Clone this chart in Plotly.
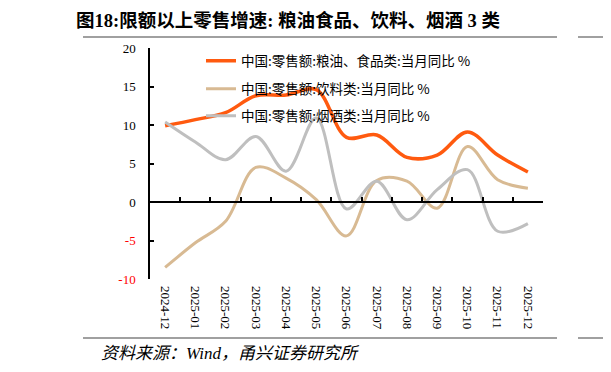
import plotly.graph_objects as go

months = ['2024-12', '2025-01', '2025-02', '2025-03', '2025-04', '2025-05', '2025-06',
          '2025-07', '2025-08', '2025-09', '2025-10', '2025-11', '2025-12']
food = [9.9, 10.7, 11.6, 13.8, 13.9, 14.6, 8.4, 8.7, 5.8, 6.1, 9.1, 6.1, 3.9]
beverage = [-8.5, -5.3, -2.5, 4.5, 3.1, 0.3, -4.4, 2.8, 2.7, -0.8, 7.2, 2.9, 1.8]
tobacco = [10.4, 7.8, 5.5, 8.5, 4.0, 10.9, -0.9, 2.7, -2.3, 1.6, 4.2, -3.8, -2.8]

names = ['中国:零售额:粮油、食品类:当月同比 %', '中国:零售额:饮料类:当月同比 %', '中国:零售额:烟酒类:当月同比 %']
colors = ['#FF5A0F', '#D8BA93', '#BFBFBF']
widths = [3.5, 3, 3]
yticks = [-10, -5, 0, 5, 10, 15, 20]
ytext = [f"<span style='color:#FF0000'>{v}</span>" if v < 0 else str(v) for v in yticks]

SERIF = 'Liberation Serif, Noto Sans CJK SC'
CJK = 'Noto Sans CJK SC'

fig = go.Figure()
for i, (vals, nm) in enumerate(zip([food, beverage, tobacco], names)):
    fig.add_trace(go.Scatter(
        x=months, y=vals, name=nm, mode='lines',
        line=dict(color=colors[i], width=widths[i], shape='spline', smoothing=1),
        legend='legend' if i == 0 else f'legend{i+1}',
        hoverinfo='skip'))

# dummy trace for the zero-line axis
fig.add_trace(go.Scatter(x=months, y=[None] * len(months), xaxis='x2', yaxis='y',
                         showlegend=False, hoverinfo='skip'))

# page has an 8px body margin; plot area target: x 150..543, y 48..279
PW, PH = 393, 231
def px(x):
    return (x - 150) / PW
def py(y):
    return (279 - y) / PH

legend_common = dict(bgcolor='rgba(0,0,0,0)', borderwidth=0, xanchor='left', yanchor='middle',
                     font=dict(family=CJK, size=13.5, color='#000000'))
lx = px(201)
fig.update_layout(
    width=603, height=364, autosize=False,
    margin=dict(l=142, r=68, t=40, b=93),
    paper_bgcolor='white', plot_bgcolor='white',
    font=dict(family=SERIF, size=13, color='#000000'),
    legend=dict(x=lx, y=py(61), **legend_common),
    legend2=dict(x=lx, y=py(89), **legend_common),
    legend3=dict(x=lx, y=py(116), **legend_common),
    xaxis=dict(type='category', categoryorder='array', categoryarray=months,
               range=[-0.5, len(months) - 0.5], showline=False, showgrid=False,
               zeroline=False, ticks='', tickangle=90, ticklabelstandoff=6,
               tickfont=dict(family=SERIF, size=13, color='#000000')),
    xaxis2=dict(type='category', categoryorder='array', categoryarray=months,
                range=[-0.5, len(months) - 0.5], overlaying='x', anchor='free',
                position=1 / 3, side='bottom', showline=True, linecolor='#000000',
                linewidth=1.5, ticks='inside', ticklen=4, tickwidth=1.5,
                tickcolor='#000000', tickson='boundaries', showticklabels=False,
                showgrid=False, zeroline=False),
    yaxis=dict(range=[-10, 20], tickvals=yticks, ticktext=ytext, showline=True,
               linecolor='#000000', linewidth=1.5, ticks='inside', ticklen=4,
               tickwidth=1.5, tickcolor='#000000', showgrid=False, zeroline=False,
               ticklabelstandoff=10,
               tickfont=dict(family=SERIF, size=13, color='#000000')),
)

fig.add_annotation(text='<b>图18:限额以上零售增速: 粮油食品、饮料、烟酒 3 类</b>',
                   xref='paper', yref='paper', x=px(288), y=py(20),
                   xanchor='center', yanchor='middle', showarrow=False,
                   font=dict(family=SERIF, size=18.5, color='#000000'))
fig.add_annotation(text='<i>资料来源：Wind，甬兴证券研究所</i>',
                   xref='paper', yref='paper', x=px(99), y=py(353),
                   xanchor='left', yanchor='middle', showarrow=False,
                   font=dict(family=SERIF, size=17, color='#000000'))

for yy in [py(37), py(338)]:
    fig.add_shape(type='line', xref='paper', yref='paper', x0=px(83), x1=px(557),
                  y0=yy, y1=yy, line=dict(color='#808080', width=1.5))
    fig.add_shape(type='line', xref='paper', yref='paper', x0=px(578), x1=px(611),
                  y0=yy, y1=yy, line=dict(color='#808080', width=1.5))

fig.write_html('out.html')
